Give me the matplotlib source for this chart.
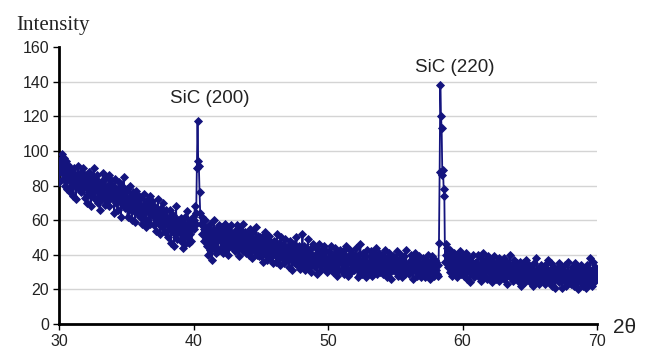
import numpy as np
import matplotlib
matplotlib.use("Agg")
import matplotlib.pyplot as plt

# XRD scan: 2-theta from 30 to 70 deg, step 0.05 deg
theta_start = 30.0
theta_step = 0.05

# Measured intensity, one row per degree (20 points each)
intensity = [
    82, 90, 95, 88, 98, 92, 84, 96, 90, 80, 86, 94, 78, 88, 92, 83, 76, 90, 85, 80,   # 30
    88, 74, 84, 90, 80, 72, 86, 82, 91, 78, 85, 80, 88, 76, 83, 90, 79, 84, 73, 86,   # 31
    80, 84, 70, 78, 88, 75, 82, 68, 79, 85, 74, 81, 90, 77, 72, 84, 79, 86, 70, 80,   # 32
    76, 66, 82, 78, 72, 87, 74, 80, 69, 84, 77, 71, 80, 75, 86, 68, 78, 83, 73, 79,   # 33
    72, 80, 64, 76, 84, 70, 78, 66, 74, 82, 71, 77, 62, 75, 80, 69, 85, 73, 67, 76,   # 34
    70, 78, 62, 72, 66, 80, 68, 74, 60, 71, 76, 65, 73, 59, 69, 77, 64, 72, 67, 74,   # 35
    66, 62, 73, 58, 68, 64, 75, 61, 67, 56, 70, 65, 72, 60, 66, 74, 58, 69, 63, 71,   # 36
    64, 57, 68, 62, 54, 66, 60, 72, 58, 63, 52, 67, 61, 56, 70, 59, 64, 53, 62, 66,   # 37
    58, 62, 50, 60, 55, 66, 47, 59, 54, 63, 57, 45, 61, 52, 68, 56, 49, 60, 53, 58,   # 38
    55, 48, 61, 53, 44, 58, 51, 62, 46, 56, 50, 65, 54, 47, 59, 52, 60, 48, 57, 62,   # 39
    55, 60, 68, 58, 64, 90, 117, 94, 91, 76, 64, 58, 62, 52, 57, 48, 55, 60, 50, 54,  # 40
    45, 56, 40, 52, 58, 43, 50, 37, 54, 47, 60, 44, 51, 41, 55, 48, 53, 42, 57, 49,   # 41
    52, 44, 56, 48, 41, 54, 47, 58, 43, 50, 46, 55, 40, 49, 53, 45, 57, 47, 51, 44,   # 42
    48, 54, 42, 50, 57, 45, 52, 39, 49, 55, 44, 51, 47, 58, 42, 50, 46, 53, 41, 48,   # 43
    45, 52, 40, 48, 55, 43, 50, 38, 47, 53, 42, 49, 45, 56, 40, 47, 51, 39, 46, 50,   # 44
    44, 39, 50, 46, 36, 48, 42, 53, 40, 45, 37, 49, 43, 51, 38, 46, 41, 47, 35, 44,   # 45
    48, 40, 45, 36, 52, 42, 39, 47, 34, 44, 50, 38, 43, 46, 35, 41, 49, 37, 44, 40,   # 46
    38, 45, 33, 42, 48, 37, 41, 31, 44, 39, 46, 35, 40, 50, 34, 42, 37, 45, 32, 40,   # 47
    43, 36, 52, 34, 40, 45, 31, 38, 42, 35, 49, 37, 33, 41, 44, 30, 39, 46, 35, 38,   # 48
    40, 33, 44, 37, 29, 41, 36, 46, 34, 39, 31, 43, 37, 35, 45, 32, 38, 42, 30, 37,   # 49
    36, 42, 32, 39, 45, 34, 38, 30, 40, 35, 44, 33, 37, 28, 41, 36, 39, 31, 43, 35,   # 50
    38, 31, 42, 35, 29, 40, 34, 45, 32, 37, 28, 39, 35, 43, 30, 36, 41, 33, 38, 31,   # 51
    36, 44, 33, 38, 27, 40, 35, 31, 46, 34, 37, 29, 41, 35, 32, 39, 27, 36, 43, 33,   # 52
    35, 30, 39, 34, 42, 28, 37, 33, 40, 31, 36, 44, 32, 29, 38, 35, 41, 30, 34, 37,   # 53
    33, 40, 29, 36, 31, 43, 34, 27, 38, 32, 35, 41, 30, 37, 26, 34, 39, 31, 36, 33,   # 54
    38, 30, 35, 42, 28, 34, 37, 31, 40, 33, 27, 36, 32, 39, 29, 35, 43, 31, 34, 30,   # 55
    36, 29, 33, 40, 31, 35, 26, 38, 32, 34, 41, 30, 36, 28, 33, 39, 31, 35, 27, 34,   # 56
    32, 38, 30, 35, 27, 37, 33, 29, 40, 31, 34, 26, 36, 32, 39, 30, 35, 28, 33, 37,   # 57
    31, 36, 29, 34, 28, 47, 88, 138, 120, 113, 86, 89, 78, 74, 36, 46, 40, 44, 33, 39,  # 58
    38, 30, 43, 34, 28, 39, 33, 41, 29, 36, 32, 40, 27, 35, 38, 31, 42, 33, 29, 37,   # 59
    33, 39, 28, 35, 31, 41, 26, 34, 37, 30, 38, 24, 33, 36, 29, 40, 32, 27, 35, 31,   # 60
    36, 29, 34, 40, 27, 33, 30, 38, 25, 35, 32, 41, 28, 34, 31, 37, 26, 33, 39, 30,   # 61
    34, 27, 37, 31, 24, 35, 30, 39, 28, 33, 26, 36, 31, 29, 38, 25, 34, 30, 36, 28,   # 62
    33, 38, 26, 32, 29, 36, 23, 31, 35, 28, 40, 30, 27, 34, 31, 25, 37, 29, 33, 27,   # 63
    31, 35, 25, 33, 28, 36, 30, 22, 32, 27, 35, 29, 33, 24, 31, 37, 26, 30, 28, 34,   # 64
    29, 24, 33, 27, 31, 22, 35, 28, 30, 25, 38, 29, 26, 32, 23, 30, 34, 27, 29, 25,   # 65
    31, 27, 34, 23, 29, 32, 26, 37, 28, 24, 31, 27, 35, 22, 30, 26, 33, 28, 21, 29,   # 66
    32, 26, 29, 35, 24, 30, 27, 33, 21, 28, 31, 25, 34, 27, 22, 30, 26, 36, 28, 24,   # 67
    30, 23, 28, 33, 26, 31, 22, 29, 35, 25, 27, 32, 20, 28, 30, 24, 34, 26, 29, 22,   # 68
    27, 32, 24, 29, 21, 34, 26, 30, 23, 38, 28, 25, 31, 22, 36, 27, 24, 33, 26, 30,   # 69
    28,                                                                               # 70
]

two_theta = theta_start + theta_step * np.arange(len(intensity))

peak_labels = ["SiC (200)", "SiC (220)"]
peak_label_pos = [(41.2, 130), (59.45, 148)]

x_ticks = [30, 40, 50, 60, 70]
y_ticks = [0, 20, 40, 60, 80, 100, 120, 140, 160]

line_color = "#14147e"

fig = plt.figure(figsize=(6.46, 3.50), dpi=100)
ax = fig.add_axes([59 / 646, 26 / 350, 538 / 646, 277 / 350])

ax.plot(two_theta, intensity, color=line_color, lw=1.3,
        marker="D", markersize=3.8, markeredgewidth=0.6,
        markerfacecolor=line_color, markeredgecolor=line_color, zorder=3)

ax.set_xlim(30, 70)
ax.set_ylim(0, 160)
ax.set_xticks(x_ticks)
ax.set_yticks(y_ticks)

for yv in y_ticks[1:-1]:
    ax.axhline(yv, color="#d4d4d4", lw=1.0, zorder=1)

for side in ("top", "right"):
    ax.spines[side].set_visible(False)
for side in ("left", "bottom"):
    ax.spines[side].set_linewidth(2.0)
    ax.spines[side].set_color("black")

ax.tick_params(axis="both", direction="out", length=4, width=1,
               labelsize=11.5, colors="black", pad=3)
for lbl in ax.get_xticklabels() + ax.get_yticklabels():
    lbl.set_fontfamily("Liberation Sans")
    lbl.set_color("#222222")

for text, (tx, ty) in zip(peak_labels, peak_label_pos):
    ax.text(tx, ty, text, ha="center", va="center", fontsize=13.5,
            family="Liberation Sans", color="#222222")

fig.text(16 / 646, 1 - 30 / 350, "Intensity", ha="left", va="baseline",
         fontsize=15, family="Liberation Serif", color="#222222")
fig.text(613 / 646, 1 - 333 / 350, "2θ", ha="left", va="baseline",
         fontsize=15, family="Liberation Sans", color="#222222")

fig.savefig("out.png", dpi=100, facecolor="white")
